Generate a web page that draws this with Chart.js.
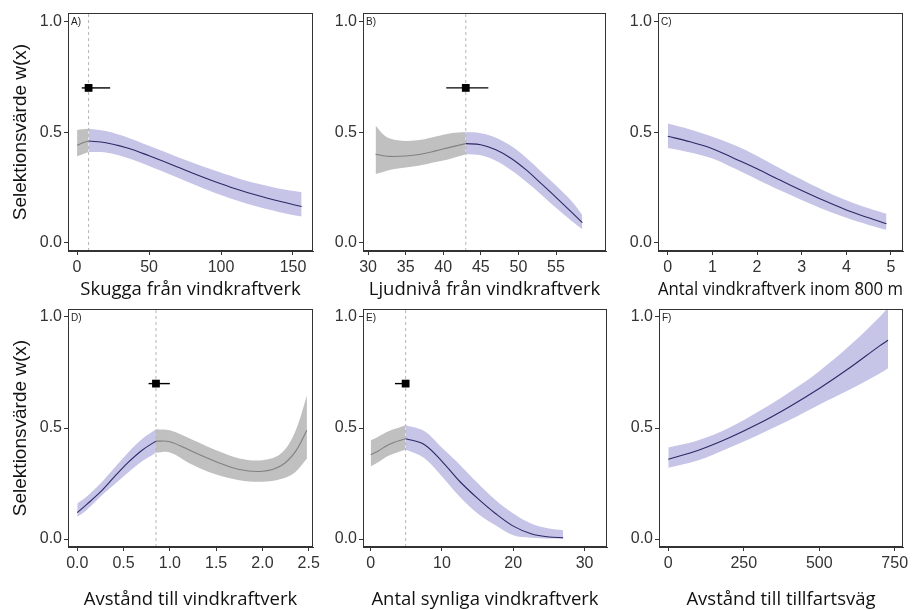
<!DOCTYPE html>
<html><head><meta charset="utf-8">
<script src="https://cdn.jsdelivr.net/npm/chart.js@4.4.1/dist/chart.umd.min.js"></script>
<style>
html,body{margin:0;padding:0;background:#fff;width:920px;height:610px;overflow:hidden}
canvas{position:absolute}
</style></head><body>
<canvas id="cA"></canvas><canvas id="cB"></canvas><canvas id="cC"></canvas>
<canvas id="cD"></canvas><canvas id="cE"></canvas><canvas id="cF"></canvas>
<script>
// ---------- shared ----------
const yTicks = [0, 0.5, 1.0];
const yTitle = 'Selektionsvärde w(x)';

// ---------- A) Skugga ----------
const aTitle = 'Skugga från vindkraftverk';
const aX   = [0, 4, 8, 20, 35, 50, 65, 80, 95, 110, 125, 140, 156];
const aFit = [0.44, 0.452, 0.46, 0.452, 0.428, 0.393, 0.355, 0.315, 0.278, 0.244, 0.214, 0.188, 0.163];
const aLo  = [0.39, 0.40, 0.41, 0.408, 0.383, 0.347, 0.307, 0.266, 0.227, 0.193, 0.163, 0.139, 0.118];
const aHi  = [0.51, 0.513, 0.515, 0.505, 0.476, 0.438, 0.40, 0.362, 0.327, 0.295, 0.267, 0.245, 0.228];
const aSplit = 8;
const aPoint = [8, 0.7];
const aBar = [3.3, 23];
const aTicks = [0, 50, 100, 150];

// ---------- B) Ljudnivå ----------
const bTitle = 'Ljudnivå från vindkraftverk';
const bX   = [31, 32, 33, 35, 37, 39, 41, 43, 45, 47, 49, 51, 53, 55, 57, 58.5];
const bFit = [0.40, 0.393, 0.39, 0.392, 0.40, 0.415, 0.432, 0.448, 0.443, 0.42, 0.382, 0.33, 0.268, 0.205, 0.14, 0.09];
const bLo  = [0.31, 0.32, 0.33, 0.34, 0.35, 0.365, 0.38, 0.40, 0.395, 0.37, 0.328, 0.276, 0.218, 0.158, 0.10, 0.06];
const bHi  = [0.53, 0.49, 0.47, 0.46, 0.465, 0.48, 0.495, 0.50, 0.495, 0.475, 0.438, 0.385, 0.322, 0.258, 0.19, 0.125];
const bSplit = 43;
const bPoint = [43, 0.7];
const bBar = [40.4, 46];
const bTicks = [30, 35, 40, 45, 50, 55];

// ---------- C) Antal inom 800 m ----------
const cTitle = 'Antal vindkraftverk inom 800 m';
const cX   = [0, 0.5, 1, 1.5, 2, 2.5, 3, 3.5, 4, 4.5, 4.9];
const cFit = [0.481, 0.456, 0.425, 0.38, 0.334, 0.284, 0.236, 0.19, 0.148, 0.112, 0.085];
const cLo  = [0.428, 0.408, 0.381, 0.335, 0.286, 0.238, 0.193, 0.15, 0.112, 0.08, 0.058];
const cHi  = [0.539, 0.512, 0.479, 0.44, 0.392, 0.338, 0.285, 0.235, 0.192, 0.155, 0.13];
const cTicks = [0, 1, 2, 3, 4, 5];

// ---------- D) Avstånd till vindkraftverk ----------
const dTitle = 'Avstånd till vindkraftverk';
const dX   = [0, 0.1, 0.25, 0.4, 0.55, 0.7, 0.85, 1.0, 1.25, 1.5, 1.75, 2.0, 2.2, 2.35, 2.48];
const dFit = [0.119, 0.155, 0.212, 0.28, 0.345, 0.40, 0.441, 0.438, 0.393, 0.348, 0.313, 0.305, 0.33, 0.39, 0.49];
const dLo  = [0.10, 0.13, 0.19, 0.245, 0.30, 0.35, 0.389, 0.39, 0.333, 0.29, 0.265, 0.258, 0.27, 0.30, 0.363];
const dHi  = [0.16, 0.19, 0.25, 0.32, 0.39, 0.45, 0.494, 0.49, 0.446, 0.40, 0.363, 0.355, 0.385, 0.48, 0.645];
const dSplit = 0.85;
const dPoint = [0.85, 0.7];
const dBar = [0.77, 1.0];
const dTicks = [0, 0.5, 1.0, 1.5, 2.0, 2.5];

// ---------- E) Antal synliga ----------
const eTitle = 'Antal synliga vindkraftverk';
const eX   = [0, 1, 2.5, 4.9, 7.5, 10, 12.5, 15, 17.5, 20, 22.5, 25, 27];
const eFit = [0.38, 0.395, 0.425, 0.452, 0.426, 0.35, 0.259, 0.183, 0.115, 0.058, 0.024, 0.009, 0.006];
const eLo  = [0.327, 0.345, 0.375, 0.403, 0.365, 0.282, 0.19, 0.115, 0.062, 0.017, 0.006, 0.002, 0.0];
const eHi  = [0.445, 0.46, 0.485, 0.512, 0.486, 0.411, 0.335, 0.252, 0.176, 0.115, 0.07, 0.047, 0.04];
const eSplit = 4.9;
const ePoint = [4.9, 0.7];
const eBar = [3.4, 5.3];
const eTicks = [0, 10, 20, 30];

// ---------- F) Avstånd till tillfartsväg ----------
const fTitle = 'Avstånd till tillfartsväg';
const fX   = [0, 100, 200, 300, 400, 500, 600, 700, 728];
const fFit = [0.359, 0.40, 0.455, 0.52, 0.595, 0.678, 0.77, 0.87, 0.895];
const fLo  = [0.321, 0.355, 0.41, 0.47, 0.535, 0.605, 0.672, 0.745, 0.769];
const fHi  = [0.412, 0.445, 0.50, 0.575, 0.66, 0.756, 0.87, 1.0, 1.043];
const fTicks = [0, 250, 500, 750];

// ---------- styling / layout ----------
const PURPLE_FILL = 'rgb(198,196,231)', PURPLE_LINE = '#2b2a66';
const GRAY_FILL = 'rgb(192,192,192)', GRAY_LINE = '#808080';
const TICK_FONT = {family: '"Liberation Sans", Arial, sans-serif', size: 16};
const XT_FONT = {family: '"Open Sans", sans-serif', size: 18.5, lineHeight: 1};
const YT_FONT = {family: '"Liberation Sans", Arial, sans-serif', size: 19, lineHeight: 1};
const PAD_T = 12, PAD_R = 16;

function pts(xs, ys, from, to) {
  const o = [];
  for (let i = 0; i < xs.length; i++) if (xs[i] >= from - 1e-9 && xs[i] <= to + 1e-9) o.push({x: xs[i], y: ys[i]});
  return o;
}

const framePlugin = {
  id: 'frame',
  afterDraw(chart, args, opts) {
    const {ctx, chartArea: a} = chart;
    ctx.save();
    ctx.strokeStyle = '#333'; ctx.lineWidth = 1;
    ctx.strokeRect(Math.round(a.left) + 0.5, Math.round(a.top) + 0.5, Math.round(a.right - a.left) - 1, Math.round(a.bottom - a.top) - 1);
    ctx.fillStyle = '#222';
    ctx.font = '10px "Liberation Sans", Arial, sans-serif';
    ctx.textBaseline = 'middle'; ctx.textAlign = 'left';
    ctx.fillText(opts.tag, a.left + 3, a.top + 9);
    ctx.restore();
  }
};

function makePanel(cfg) {
  const cv = document.getElementById(cfg.id);
  const pw = cfg.rect[2] - cfg.rect[0], ph = cfg.rect[3] - cfg.rect[1];
  const W = cfg.wy + pw + PAD_R, H = PAD_T + ph + cfg.hx;
  cv.width = W; cv.height = H;
  cv.style.left = (cfg.rect[0] - cfg.wy) + 'px';
  cv.style.top = (cfg.rect[1] - PAD_T) + 'px';
  cv.style.width = W + 'px'; cv.style.height = H + 'px';

  const xs = cfg.x, x0 = xs[0], x1 = xs[xs.length - 1];
  const segs = cfg.split == null
    ? [{from: x0, to: x1, fill: PURPLE_FILL, line: PURPLE_LINE}]
    : [{from: x0, to: cfg.split, fill: cfg.leftGray ? GRAY_FILL : PURPLE_FILL, line: cfg.leftGray ? GRAY_LINE : PURPLE_LINE},
       {from: cfg.split, to: x1, fill: cfg.leftGray ? PURPLE_FILL : GRAY_FILL, line: cfg.leftGray ? PURPLE_LINE : GRAY_LINE}];

  const ds = [];
  const base = {pointRadius: 0, tension: 0.35, fill: false};
  if (cfg.point) {
    ds.push({...base, data: [{x: cfg.point[0], y: cfg.point[1]}], pointStyle: 'rect', pointRadius: 5.5,
             backgroundColor: '#000', borderColor: '#000', borderWidth: 0, showLine: false});
    ds.push({...base, data: [{x: cfg.bar[0], y: cfg.point[1]}, {x: cfg.bar[1], y: cfg.point[1]}],
             borderColor: '#000', borderWidth: 1.4, tension: 0});
  }
  segs.forEach(s => ds.push({...base, data: pts(xs, cfg.fit, s.from, s.to), borderColor: s.line, borderWidth: 1.1}));
  if (cfg.split != null) {
    ds.push({...base, tension: 0, data: [{x: cfg.split, y: cfg.ymin}, {x: cfg.split, y: cfg.ymax}],
             borderColor: '#b5b5b5', borderWidth: 1, borderDash: [3, 3]});
  }
  segs.forEach(s => {
    const loIdx = ds.length;
    ds.push({...base, data: pts(xs, cfg.hi, s.from, s.to), borderWidth: 0, borderColor: 'rgba(0,0,0,0)',
             fill: {target: loIdx + 1}, backgroundColor: s.fill});
    ds.push({...base, data: pts(xs, cfg.lo, s.from, s.to), borderWidth: 0, borderColor: 'rgba(0,0,0,0)'});
  });

  const tickGrid = {display: true, drawOnChartArea: false, drawTicks: true, tickLength: 4, color: '#333', tickWidth: 1};
  new Chart(cv, {
    type: 'line',
    data: {datasets: ds},
    options: {
      responsive: false, animation: false, parsing: true,
      layout: {padding: {top: PAD_T, right: PAD_R, bottom: 0, left: 0}},
      plugins: {legend: {display: false}, tooltip: {enabled: false}, frame: {tag: cfg.tag}},
      scales: {
        x: {type: 'linear', min: cfg.xmin, max: cfg.xmax,
            afterBuildTicks: sc => { sc.ticks = cfg.ticks.map(v => ({value: v})); },
            afterFit: sc => { sc.height = cfg.hx; },
            ticks: {font: TICK_FONT, color: '#333', padding: 3, maxRotation: 0, autoSkip: false,
                    callback: v => cfg.fmt ? v.toFixed(cfg.fmt) : String(v)},
            grid: tickGrid, border: {display: true, color: '#333'},
            title: {display: true, text: cfg.title, font: XT_FONT, color: '#111', padding: {top: 0, bottom: cfg.tpad}}},
        y: {type: 'linear', min: cfg.ymin, max: cfg.ymax,
            afterBuildTicks: sc => { sc.ticks = yTicks.map(v => ({value: v})); },
            afterFit: sc => { sc.width = cfg.wy; },
            ticks: {font: TICK_FONT, color: '#333', padding: 2, callback: v => v.toFixed(1)},
            grid: tickGrid, border: {display: true, color: '#333'},
            title: {display: cfg.ytitle, text: yTitle, font: YT_FONT, color: '#111', padding: {top: 11, bottom: 0}}}
      }
    },
    plugins: [framePlugin]
  });
}

const TOP = [13, 251], BOT = [309, 547];
makePanel({id: 'cA', tag: 'A)', rect: [68, TOP[0], 313, TOP[1]], wy: 68, hx: 57, tpad: 9, ytitle: true,
  x: aX, fit: aFit, lo: aLo, hi: aHi, split: aSplit, leftGray: true, point: aPoint, bar: aBar,
  xmin: -6.3, xmax: 163.9, ymin: -0.038, ymax: 1.039, ticks: aTicks, title: aTitle});
makePanel({id: 'cB', tag: 'B)', rect: [363, TOP[0], 606, TOP[1]], wy: 40, hx: 57, tpad: 9, ytitle: false,
  x: bX, fit: bFit, lo: bLo, hi: bHi, split: bSplit, leftGray: true, point: bPoint, bar: bBar,
  xmin: 29.33, xmax: 61.65, ymin: -0.038, ymax: 1.039, ticks: bTicks, title: bTitle});
makePanel({id: 'cC', tag: 'C)', rect: [658, TOP[0], 903, TOP[1]], wy: 40, hx: 57, tpad: 9, ytitle: false,
  x: cX, fit: cFit, lo: cLo, hi: cHi, split: null,
  xmin: -0.22, xmax: 5.27, ymin: -0.038, ymax: 1.039, ticks: cTicks, title: cTitle});
makePanel({id: 'cD', tag: 'D)', rect: [68, BOT[0], 313, BOT[1]], wy: 68, hx: 62, tpad: 0, ytitle: true,
  x: dX, fit: dFit, lo: dLo, hi: dHi, split: dSplit, leftGray: false, point: dPoint, bar: dBar,
  xmin: -0.10, xmax: 2.546, ymin: -0.036, ymax: 1.036, ticks: dTicks, fmt: 1, title: dTitle});
makePanel({id: 'cE', tag: 'E)', rect: [363, BOT[0], 607, BOT[1]], wy: 40, hx: 62, tpad: 0, ytitle: false,
  x: eX, fit: eFit, lo: eLo, hi: eHi, split: eSplit, leftGray: true, point: ePoint, bar: eBar,
  xmin: -1.08, xmax: 33.15, ymin: -0.036, ymax: 1.036, ticks: eTicks, title: eTitle});
makePanel({id: 'cF', tag: 'F)', rect: [659, BOT[0], 903, BOT[1]], wy: 40, hx: 62, tpad: 0, ytitle: false,
  x: fX, fit: fFit, lo: fLo, hi: fHi, split: null,
  xmin: -30.8, xmax: 777.5, ymin: -0.036, ymax: 1.036, ticks: fTicks, title: fTitle});
</script>
</body></html>
